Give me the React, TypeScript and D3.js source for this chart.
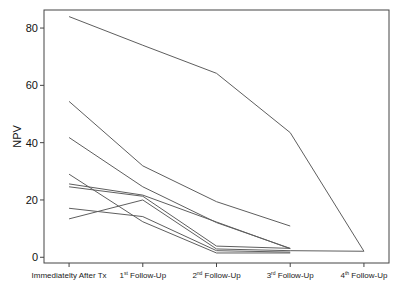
import React from "react";
import * as d3 from "d3";

const categories = ["Immediatelty After Tx", "1st Follow-Up", "2nd Follow-Up", "3rd Follow-Up", "4th Follow-Up"];
const tickMain = ["Immediatelty After Tx", "1", "2", "3", "4"];
const tickSup = ["", "st", "nd", "rd", "th"];
const yTicks = [0, 20, 40, 60, 80];

const patientA: (number | null)[] = [84, 74, 64.2, 43.5, 2.1];
const patientB: (number | null)[] = [54.4, 31.9, 19.4, 10.9, null];
const patientC: (number | null)[] = [41.8, 24.6, 12.1, 3.1, null];
const patientD: (number | null)[] = [25.6, 21.7, 12.3, 3.0, null];
const patientE: (number | null)[] = [24.6, 21.3, 3.9, 3.1, null];
const patientF: (number | null)[] = [29.0, 12.4, 1.5, 1.5, null];
const patientG: (number | null)[] = [17.1, 14.2, 2.3, 1.8, null];
const patientH: (number | null)[] = [13.4, 20.0, 2.9, 2.3, 2.1];

const series = [patientA, patientB, patientC, patientD, patientE, patientF, patientG, patientH];

const W = 400;
const H = 291;
const L = 44, R = 389, T = 10, B = 263;

export default function App() {
  const x = d3.scalePoint<string>().domain(categories).range([L, R]).padding(0.34);
  const y = d3.scaleLinear().domain([-2, 86.3]).range([B, T]);
  const line = d3
    .line<number | null>()
    .defined((d) => d !== null)
    .x((_, i) => x(categories[i]) as number)
    .y((d) => y(d as number));

  const font = "Liberation Sans, Arial, Helvetica, sans-serif";
  return (
    <div style={{ position: "fixed", left: 0, top: 0 }}>
      <svg width={W} height={H} style={{ display: "block", background: "#fff" }} fontFamily={font}>
        <rect x={0} y={0} width={W} height={H} fill="#fff" />
        {series.map((s, i) => (
          <path key={i} d={line(s) || ""} fill="none" stroke="#5e5e5e" strokeWidth={1} />
        ))}
        <rect x={L} y={T} width={R - L} height={B - T} fill="none" stroke="#444" strokeWidth={1} />
        {yTicks.map((t) => (
          <g key={t} transform={`translate(0,${y(t)})`}>
            <line x1={L - 4} x2={L} stroke="#444" />
            <text x={L - 6} dy="0.35em" textAnchor="end" fontSize={11} fill="#111">
              {t}
            </text>
          </g>
        ))}
        <text transform={`translate(21,${(T + B) / 2}) rotate(-90)`} textAnchor="middle" fontSize={11} fill="#111">
          NPV
        </text>
        {categories.map((c, i) => (
          <g key={c} transform={`translate(${x(c)},0)`}>
            <line y1={B} y2={B + 4} stroke="#444" />
            <text y={278} textAnchor="middle" fontSize={8} fill="#222">
              {tickMain[i]}
              {tickSup[i] && (
                <tspan fontSize={5} dy={-3.5}>
                  {tickSup[i]}
                </tspan>
              )}
              {tickSup[i] && <tspan dy={3.5}> Follow-Up</tspan>}
            </text>
          </g>
        ))}
      </svg>
    </div>
  );
}
